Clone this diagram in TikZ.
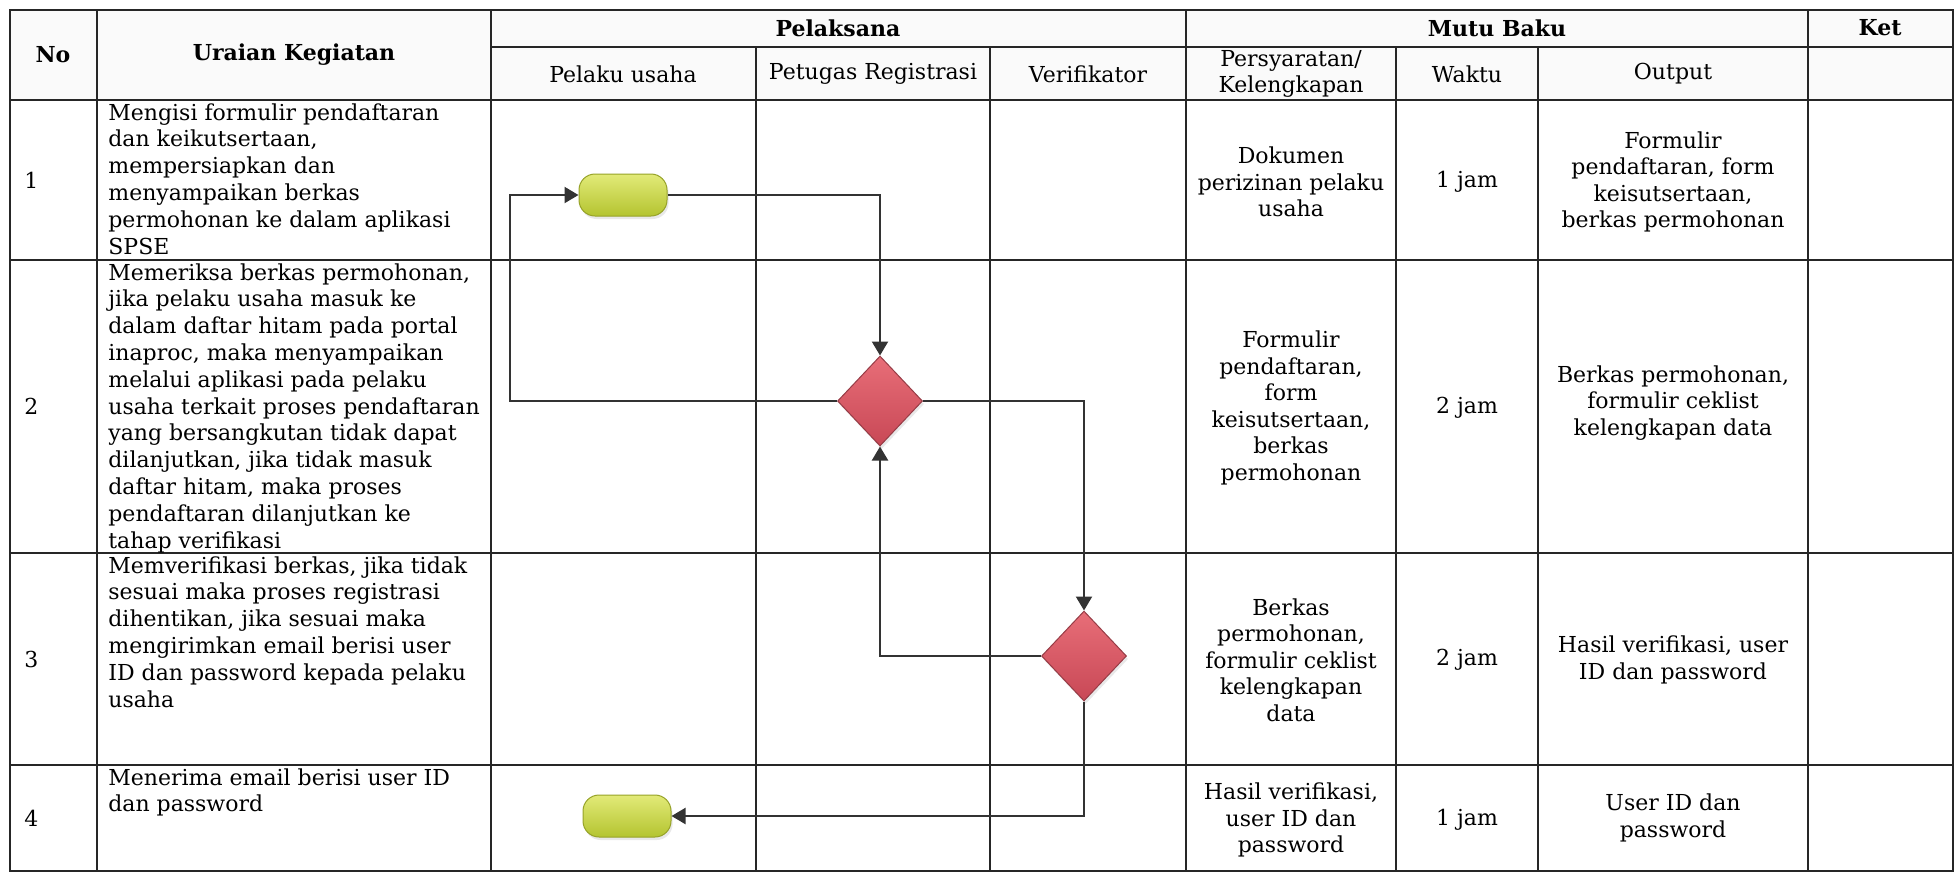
\documentclass[tikz,border=0pt]{standalone}
\usepackage{fontspec}
\setmainfont{DejaVu Serif}
\usetikzlibrary{shapes.geometric,arrows.meta,shadows,positioning}

\definecolor{termtop}{RGB}{226,234,120}
\definecolor{termbot}{RGB}{180,196,48}
\definecolor{termline}{RGB}{150,162,40}
\definecolor{dectop}{RGB}{232,110,120}
\definecolor{decbot}{RGB}{200,72,86}
\definecolor{decline}{RGB}{150,60,70}

\tikzset{
  grid/.style={line width=0.7pt, black!85},
  hd/.style={font=\fontsize{11}{13.3}\selectfont\bfseries, inner sep=0pt},
  sub/.style={font=\fontsize{11}{13.3}\selectfont, align=center, inner sep=0pt},
  task/.style={font=\fontsize{11}{13.4}\selectfont, align=left, anchor=north west, inner sep=0pt},
  cell/.style={font=\fontsize{11}{13.3}\selectfont, align=center, inner sep=0pt},
  term/.style={draw=termline, line width=0.5pt, top color=termtop, bottom color=termbot,
    rounded corners=8pt, minimum width=44pt, minimum height=21pt,
    drop shadow={opacity=0.18, shadow xshift=0.8pt, shadow yshift=-1.5pt}},
  dec/.style={diamond, draw=decline, line width=0.5pt, top color=dectop, bottom color=decbot,
    minimum width=42.5pt, minimum height=45pt, inner sep=0pt,
    drop shadow={opacity=0.18, shadow xshift=0.8pt, shadow yshift=-1.5pt}},
  flow/.style={line width=1.1pt, black!80, -{Triangle[length=7pt,width=8pt]}}
}

\begin{document}
\begin{tikzpicture}[x=0.5pt,y=-0.5pt]
\useasboundingbox (0,0) rectangle (1959,875);

% header band and grid
\fill[gray!4] (10,10) rectangle (1953,100);
\draw[grid] (10,10) rectangle (1953,871);
\foreach \x in {97,491,1186,1808} \draw[grid] (\x,10) -- (\x,871);
\foreach \x in {756,990,1396,1538} \draw[grid] (\x,47) -- (\x,871);
\draw[grid] (491,47) -- (1953,47);
\foreach \y in {100,260,553,765} \draw[grid] (10,\y) -- (1953,\y);

% header
\node[hd] (hNo) at (53,55) {No};
\node[hd] (hUraian) at (294,55) {Uraian Kegiatan};
\node[hd] (hPelaksana) at (838,28) {Pelaksana};
\node[hd] (hMutu) at (1497,28) {Mutu Baku};
\node[hd] (hKet) at (1880,28) {Ket};
\node[sub] (hPelaku) at (623,74) {Pelaku usaha};
\node[sub] (hPetugas) at (873,74) {Petugas Registrasi};
\node[sub] (hVerif) at (1088,74) {Verifikator};
\node[sub] (hSyarat) at (1291,74) {Persyaratan/\\Kelengkapan};
\node[sub] (hWaktu) at (1467,74) {Waktu};
\node[sub] (hOutput) at (1673,74) {Output};

% row numbers
\node[sub, anchor=west] (n1) at (24,180) {1};
\node[sub, anchor=west] (n2) at (24,406) {2};
\node[sub, anchor=west] (n3) at (24,659) {3};
\node[sub, anchor=west] (n4) at (24,818) {4};

% activities
\node[task] (u1) at (108,103) {Mengisi formulir pendaftaran\\dan keikutsertaan,\\mempersiapkan dan\\menyampaikan berkas\\permohonan ke dalam aplikasi\\SPSE};
\node[task] (u2) at (108,263) {Memeriksa berkas permohonan,\\jika pelaku usaha masuk ke\\dalam daftar hitam pada portal\\inaproc, maka menyampaikan\\melalui aplikasi pada pelaku\\usaha terkait proses pendaftaran\\yang bersangkutan tidak dapat\\dilanjutkan, jika tidak masuk\\daftar hitam, maka proses\\pendaftaran dilanjutkan ke\\tahap verifikasi};
\node[task] (u3) at (108,556) {Memverifikasi berkas, jika tidak\\sesuai maka proses registrasi\\dihentikan, jika sesuai maka\\mengirimkan email berisi user\\ID dan password kepada pelaku\\usaha};
\node[task] (u4) at (108,768) {Menerima email berisi user ID\\dan password};

% mutu baku
\node[cell] (s1) at (1291,182) {Dokumen\\perizinan pelaku\\usaha};
\node[cell] (w1) at (1467,182) {1 jam};
\node[cell] (o1) at (1673,182) {Formulir\\pendaftaran, form\\keisutsertaan,\\berkas permohonan};
\node[cell] (s2) at (1291,408) {Formulir\\pendaftaran,\\form\\keisutsertaan,\\berkas\\permohonan};
\node[cell] (w2) at (1467,408) {2 jam};
\node[cell] (o2) at (1673,403) {Berkas permohonan,\\formulir ceklist\\kelengkapan data};
\node[cell] (s3) at (1291,660) {Berkas\\permohonan,\\formulir ceklist\\kelengkapan\\data};
\node[cell] (w3) at (1467,660) {2 jam};
\node[cell] (o3) at (1673,660) {Hasil verifikasi, user\\ID dan password};
\node[cell] (s4) at (1291,820) {Hasil verifikasi,\\user ID dan\\password};
\node[cell] (w4) at (1467,820) {1 jam};
\node[cell] (o4) at (1673,818) {User ID dan\\password};

% flow
\node[term] (start) at (623,195) {};
\node[dec] (check) at (880,401) {};
\node[dec] (verify) at (1084,656) {};
\node[term] (finish) at (627,816) {};
\coordinate (back) at (510,300);

\draw[flow] (start.east) -| (check.north);
\draw[flow] (check.west) -| (back) |- (start.west);
\draw[flow] (check.east) -| (verify.north);
\draw[flow] (verify.west) -| (check.south);
\draw[flow] (verify.south) |- (finish.east);
\end{tikzpicture}
\end{document}
